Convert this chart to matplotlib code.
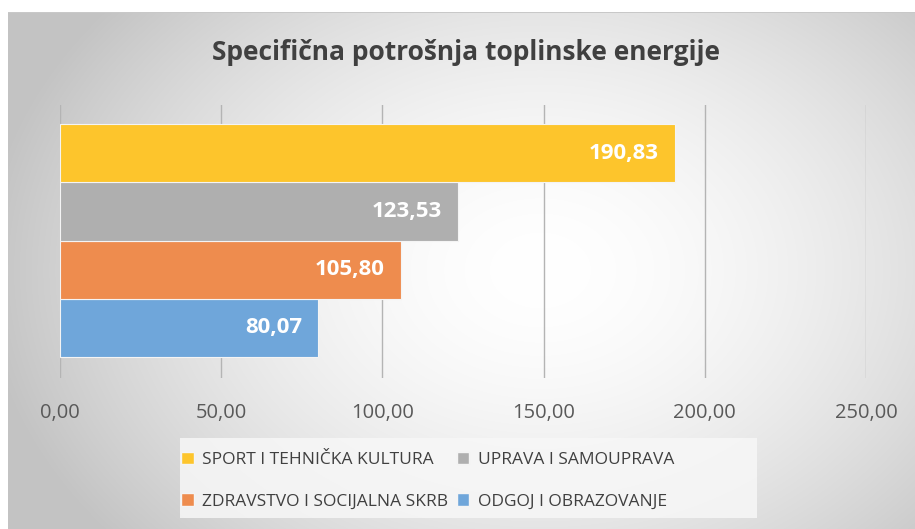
import numpy as np
import matplotlib.pyplot as plt
from matplotlib.patches import Patch, Rectangle

categories = ['ODGOJ I OBRAZOVANJE', 'ZDRAVSTVO I SOCIJALNA SKRB',
              'UPRAVA I SAMOUPRAVA', 'SPORT I TEHNIČKA KULTURA']
values = [80.07, 105.80, 123.53, 190.83]
colors = ['#6fa6da', '#ee8c4e', '#afafaf', '#fdc52c']
xticks = [0, 50, 100, 150, 200, 250]

plt.rcParams['font.family'] = ['Open Sans', 'DejaVu Sans']

W, H = 915, 529
fig = plt.figure(figsize=(W / 100, H / 100), dpi=100)

# radial grey background
bg = fig.add_axes([0, 0, 1, 1], zorder=-5)
yy, xx = np.mgrid[0:H, 0:W]
r = np.sqrt(((xx - 540) / 560.0) ** 2 + ((yy - 270) / 420.0) ** 2)
shade = 255 - 60 * np.clip(r, 0, 1) ** 1.7
shade[:12, :] = 255
shade[:, :8] = 255
shade[12, 8:] = 200
img = np.dstack([shade, shade, shade]) / 255.0
bg.imshow(img, extent=[0, W, H, 0], aspect='auto')
bg.set_xlim(0, W)
bg.set_ylim(H, 0)
bg.axis('off')
# legend box (wider than its contents, like the original)
bg.add_patch(Rectangle((180, 438), 577, 80, facecolor='#f7f7f7',
                       edgecolor='none', alpha=0.85))

ax = fig.add_axes([60 / W, 1 - 378 / H, 806 / W, 273 / H])
ax.patch.set_alpha(0)
pos = np.arange(len(values))
bars = ax.barh(pos, values, height=1.0, color=colors,
               edgecolor='#f4f4f4', linewidth=0.8, zorder=3)
for b, v in zip(bars, values):
    ax.text(v - 5, b.get_y() + 0.5, f'{v:.2f}'.replace('.', ','),
            ha='right', va='center', color='white', fontsize=16,
            fontweight='bold', zorder=4)

ax.set_xlim(0, 250)
ax.set_ylim(-0.86, 3.83)
ax.set_xticks(xticks)
ax.set_xticklabels([f'{t:.2f}'.replace('.', ',') for t in xticks],
                   fontsize=14.5, color='#595959')
ax.set_yticks([])
ax.tick_params(axis='x', length=0, pad=18)
ax.grid(axis='x', color='#b4b4b4', linewidth=1, zorder=0)
for s in ax.spines.values():
    s.set_visible(False)

fig.text(466 / W, 1 - 53 / H, 'Specifična potrošnja toplinske energije',
         ha='center', va='center', fontsize=19, fontweight='bold',
         color='#404040')

handles = [Patch(facecolor=colors[i], edgecolor='#f4f4f4') for i in [3, 1, 2, 0]]
labels = [categories[i] for i in [3, 1, 2, 0]]
leg = fig.legend(handles, labels, ncol=2, loc='upper left',
                 bbox_to_anchor=(181 / W, 1 - 452 / H), frameon=False,
                 fontsize=12.5, handlelength=0.72, handleheight=0.72,
                 handletextpad=0.5, columnspacing=0.5, labelspacing=1.45,
                 borderpad=0, borderaxespad=0)
for t in leg.get_texts():
    t.set_color('#404040')

fig.savefig('out.png', dpi=100)
